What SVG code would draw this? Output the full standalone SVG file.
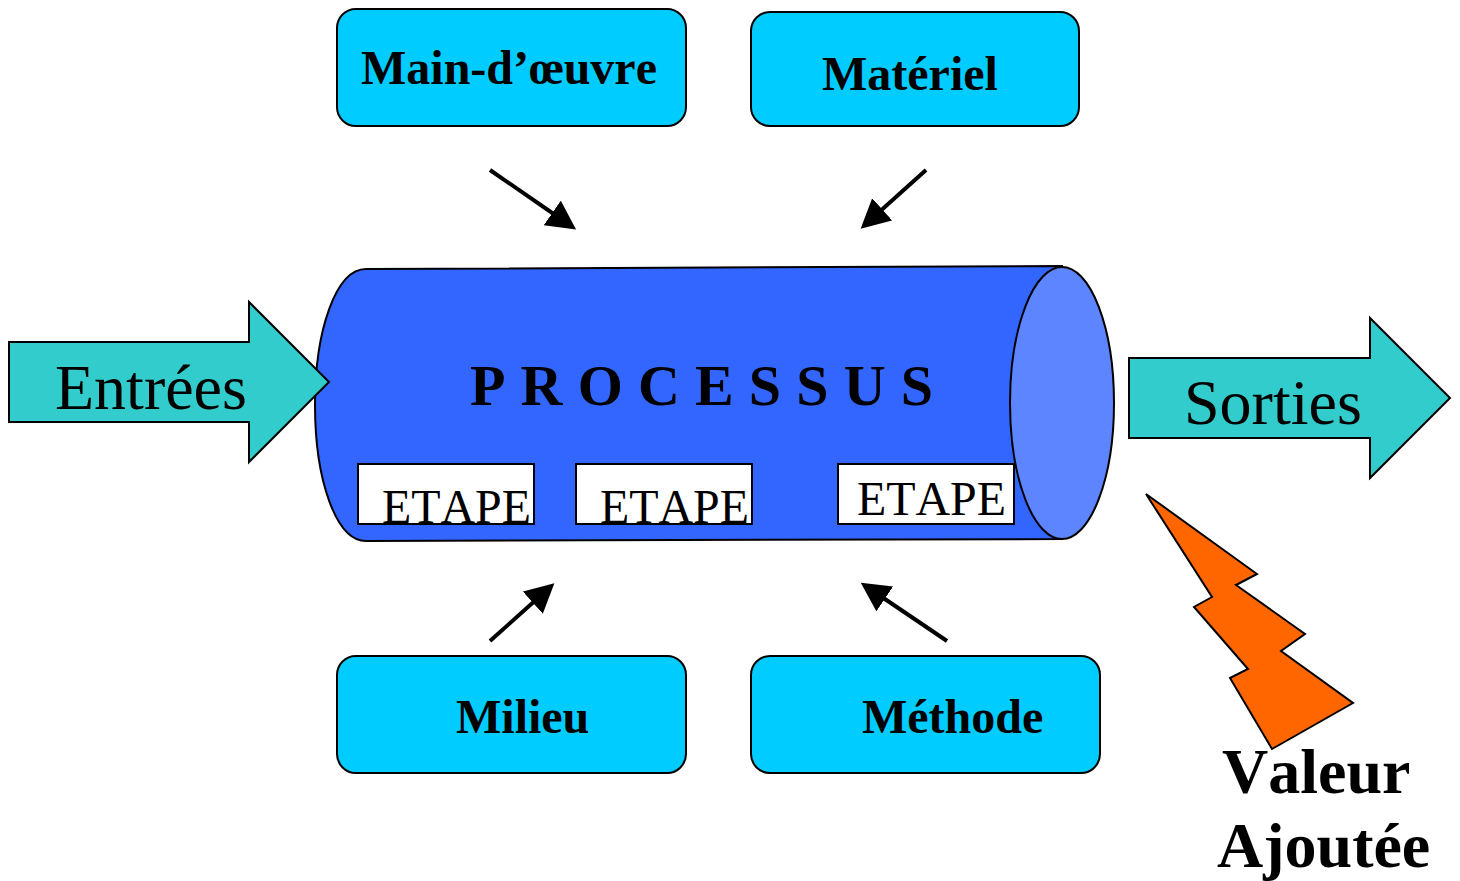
<svg xmlns="http://www.w3.org/2000/svg" width="1460" height="881" viewBox="0 0 1460 881">
<style>
.s{stroke:#000;stroke-width:2}
.box{fill:#00ccff;stroke:#000;stroke-width:2}
.t{font-family:"Liberation Serif",serif;fill:#000;font-kerning:none}
.b{font-weight:bold}
.a{stroke:#000;stroke-width:4;fill:none;marker-end:url(#ah)}
.e{fill:#fff;stroke:#000;stroke-width:2}
</style>
<defs><marker id="ah" markerUnits="userSpaceOnUse" markerWidth="32" markerHeight="32" refX="7" refY="15" orient="auto"><path d="M0 0L29 15L0 30Z" fill="#000"/></marker></defs>
<rect width="1460" height="881" fill="#fff"/>
<g id="main-oeuvre"><rect class="box" x="337" y="9" width="349" height="117" rx="19"/><text class="t b" x="361" y="84" font-size="48">Main-d’œuvre</text></g>
<g id="materiel"><rect class="box" x="751" y="12" width="328" height="114" rx="19"/><text class="t b" x="822" y="90" font-size="48">Matériel</text></g>
<g id="milieu"><rect class="box" x="337" y="656" width="349" height="117" rx="19"/><text class="t b" x="456" y="733" font-size="48">Milieu</text></g>
<g id="methode"><rect class="box" x="751" y="656" width="349" height="117" rx="19"/><text class="t b" x="862" y="733" font-size="48">Méthode</text></g>
<g id="processus"><path class="s" fill="#3366ff" d="M1062 266L366 269C336 269 315 330 315 405C315 480 336 541 366 541L1062 539Z"/><ellipse class="s" fill="#5c85ff" cx="1062" cy="403" rx="52" ry="136"/><text class="t b" x="470" y="405" font-size="58" textLength="463">PROCESSUS</text></g>
<g id="etape1"><rect class="e" x="358" y="464" width="176" height="60"/><text class="t" x="382" y="523" font-size="48" textLength="149" lengthAdjust="spacingAndGlyphs">ETAPE</text></g>
<g id="etape2"><rect class="e" x="576" y="464" width="176" height="60"/><text class="t" x="600" y="523" font-size="48" textLength="149" lengthAdjust="spacingAndGlyphs">ETAPE</text></g>
<g id="etape3"><rect class="e" x="838" y="464" width="176" height="60"/><text class="t" x="857" y="515" font-size="48" textLength="149" lengthAdjust="spacingAndGlyphs">ETAPE</text></g>
<g id="entrees"><path class="s" fill="#33cccc" d="M9 342H249V302L329 382L249 462V422H9Z"/><text class="t" x="55" y="409" font-size="64">Entrées</text></g>
<g id="sorties"><path class="s" fill="#33cccc" d="M1129 358H1370V318L1450 398L1370 478V438H1129Z"/><text class="t" x="1184" y="424" font-size="64">Sorties</text></g>
<g id="valeur"><path class="s" fill="#ff6600" d="M1146 494L1257 574L1236 585L1305 634L1281 651L1353 703L1272 749L1230 678L1248 669L1194 607L1212 597Z"/><text class="t b" x="1222" y="793" font-size="64">Valeur</text><text class="t b" x="1217" y="867" font-size="64">Ajoutée</text></g>
<g id="connectors"><line class="a" x1="490" y1="170" x2="558" y2="217"/><line class="a" x1="926" y1="170" x2="877" y2="214"/><line class="a" x1="490" y1="641" x2="538" y2="598"/><line class="a" x1="947" y1="641" x2="879" y2="595"/></g>
</svg>
